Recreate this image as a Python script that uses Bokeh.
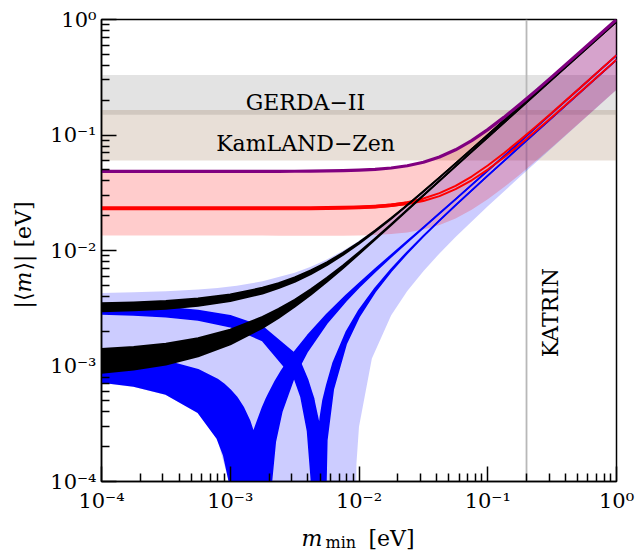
import math
from bokeh.plotting import figure
from bokeh.layouts import row, column
from bokeh.models import FixedTicker, CustomJSTickFormatter, Label
from bokeh.core.properties import value
from bokeh.embed import file_html
from bokeh.resources import INLINE

# ---------------- data ----------------
# common grid of lightest masses (powers of ten)
grid_exp = [-4, -3.75, -3.5, -3.25, -3, -2.75, -2.625, -2.5, -2.375, -2.25, -2.125, -2,
            -1.875, -1.75, -1.625, -1.5, -1.375, -1.25, -1.125, -1, -0.875, -0.75,
            -0.625, -0.5, -0.25, 0]

# inverted ordering, upper curve (purple)
ih_purple = [0.0484, 0.0484, 0.0484, 0.0484, 0.04843, 0.04847, 0.04851, 0.04856, 0.04866,
             0.04883, 0.04911, 0.04959, 0.05041, 0.05181, 0.05418, 0.05812, 0.0645,
             0.07448, 0.08951, 0.11131, 0.14204, 0.18443, 0.24213, 0.32, 0.56447, 1.0]
# inverted ordering, lower curves (red pair)
ih_red_a = [0.02319, 0.02319, 0.0232, 0.0232, 0.02321, 0.02324, 0.02326, 0.0233, 0.02336,
            0.02345, 0.02361, 0.02387, 0.0243, 0.02501, 0.02621, 0.02819, 0.03136, 0.0363,
            0.0437, 0.05442, 0.0695, 0.0903, 0.11859, 0.15675, 0.27657, 0.49057]
ih_red_b = [0.02319, 0.02318, 0.02318, 0.02318, 0.02317, 0.02316, 0.02316, 0.02317, 0.02318,
            0.02322, 0.02329, 0.02345, 0.02374, 0.02427, 0.02522, 0.02686, 0.02959, 0.03394,
            0.04055, 0.05022, 0.0639, 0.08283, 0.10863, 0.14347, 0.25295, 0.44857]
# thickness of the red pair at small masses (first 16 grid points)
ih_red_lo = [0.022261, 0.022261, 0.022261, 0.022261, 0.022264, 0.022274, 0.022287, 0.022308,
             0.022346, 0.022415, 0.022534, 0.022746, 0.02312, 0.023767, 0.024879, 0.026743]
ih_red_hi = [0.024115, 0.024115, 0.024115, 0.024115, 0.024118, 0.024128, 0.024139, 0.024158,
             0.024194, 0.024257, 0.024368, 0.024564, 0.02491, 0.025513, 0.026551, 0.028305]
# inverted ordering 3 sigma region, lower edge (upper edge = purple curve)
ih_region_lo = [0.013494, 0.013492, 0.013489, 0.013482, 0.013472, 0.013457, 0.013448,
                0.013439, 0.013431, 0.013431, 0.013449, 0.0135, 0.013619, 0.013863,
                0.014329, 0.015167, 0.0166, 0.018923, 0.022495, 0.027754, 0.035227,
                0.045587, 0.059727, 0.078841, 0.13893, 0.246333]

# normal ordering black bands
nh_black_top_lo = [0.002972, 0.003029, 0.003130, 0.003312, 0.003641, 0.004240, 0.004711,
                   0.005355, 0.006240, 0.007458, 0.009137, 0.011441, 0.014588, 0.018857,
                   0.024624, 0.032378, 0.042787, 0.056722, 0.075374, 0.100297, 0.133577,
                   0.177983, 0.237268, 0.316303, 0.562361, 1.0]
nh_black_top_hi = [0.003503, 0.003560, 0.003661, 0.003842, 0.004169, 0.004762, 0.005226,
                   0.005857, 0.006723, 0.007914, 0.009555, 0.011815, 0.014912, 0.019133,
                   0.024857, 0.032572, 0.042946, 0.056852, 0.075477, 0.100377, 0.133639,
                   0.178027, 0.237304, 0.316335, 0.562380, 1.0]
nh_black_low_lo = [0.000872, 0.000929, 0.001030, 0.001212, 0.001540, 0.002139, 0.002609,
                   0.003250, 0.004132, 0.005345, 0.007013, 0.009300, 0.012414, 0.016627,
                   0.022299, 0.029893, 0.040039, 0.053561, 0.071587, 0.095600, 0.127595,
                   0.170224, 0.227089, 0.302856, 0.538650, 0.957981]
nh_black_low_hi = [0.001403, 0.001460, 0.001561, 0.001742, 0.002068, 0.002661, 0.003123,
                   0.003753, 0.004616, 0.005800, 0.007432, 0.009673, 0.012739, 0.016904,
                   0.022532, 0.030087, 0.040198, 0.053691, 0.071690, 0.095680, 0.127657,
                   0.170268, 0.227125, 0.302888, 0.538669, 0.957986]

# normal ordering blue band with the cusp near 1.5e-3
blue1_exp = [-4, -3.75, -3.5, -3.25, -3.1, -3.05, -3, -2.95, -2.945, -2.9, -2.85, -2.82,
             -2.8, -2.75, -2.72, -2.7, -2.65, -2.6, -2.5, -2.4, -2.25, -2.1, -2, -1.875,
             -1.75, -1.625, -1.5, -1.375, -1.25, -1, -0.75, -0.5, -0.25, 0]
blue1_lo = [0.000727, 0.000671, 0.000572, 0.000398, 0.000235, 0.000168, 0.0000922,
            0.0000084, 1e-6, 1e-6, 1e-6, 1e-6, 1e-6, 1e-6, 1e-6, 0.0000593, 0.000222,
            0.000402, 0.000825, 0.001344, 0.002342, 0.003677, 0.004807, 0.00657, 0.008842,
            0.011805, 0.015699, 0.020864, 0.027731, 0.04912, 0.087192, 0.154974, 0.275551,
            0.490014]
blue1_hi = [0.001258, 0.001202, 0.001103, 0.000928, 0.000764, 0.000696, 0.00062, 0.000536,
            0.000527, 0.000441, 0.000335, 0.000266, 0.000306, 0.000435, 0.000519, 0.000578,
            0.000738, 0.000915, 0.001328, 0.001832, 0.002798, 0.004087, 0.005181, 0.006895,
            0.009119, 0.012039, 0.015893, 0.021024, 0.027861, 0.0492, 0.087236, 0.155004,
            0.27557, 0.490019]

# normal ordering blue band with the cusp near 5e-3
blue2_exp = [-4, -3.75, -3.5, -3.25, -3, -2.75, -2.5, -2.45, -2.4, -2.37, -2.352, -2.35,
             -2.32, -2.308, -2.3, -2.28, -2.25, -2.2, -2.1, -2, -1.875, -1.75, -1.625, -1.5,
             -1.375, -1.25, -1, -0.75, -0.5, -0.25, 0]
blue2_lo = [0.002827, 0.002771, 0.002672, 0.002498, 0.002193, 0.001666, 0.000777, 0.000538,
            0.000275, 0.000104, 1e-6, 1e-6, 1e-6, 1e-6, 1e-6, 0.0000065, 0.000228, 0.000628,
            0.00155, 0.002665, 0.004397, 0.006613, 0.009481, 0.013214, 0.018116, 0.02457,
            0.044423, 0.079433, 0.141527, 0.25184, 0.447961]
blue2_hi = [0.003358, 0.003302, 0.003203, 0.003028, 0.002721, 0.002188, 0.001279, 0.001034,
            0.000763, 0.000600, 0.000520, 0.000500, 0.000350, 0.000300, 0.000360, 0.000500,
            0.000684, 0.001071, 0.00196, 0.003039, 0.004721, 0.006889, 0.009714, 0.013408,
            0.018276, 0.0247, 0.044503, 0.079477, 0.141557, 0.251859, 0.447966]

# normal ordering 3 sigma region (light blue)
nh_exp = [-4, -3.75, -3.5, -3.25, -3.1, -3, -2.95, -2.75, -2.5, -2.375, -2.25, -2.125,
          -2.027, -2.02, -2, -1.9, -1.75, -1.625, -1.5, -1.375, -1.25, -1, -0.75, -0.5,
          -0.25, 0]
nh_region_hi = [0.004293, 0.004342, 0.004429, 0.004587, 0.004739, 0.004875, 0.004957,
                0.005407, 0.006413, 0.007225, 0.008361, 0.00995, 0.011621, 0.011758,
                0.012162, 0.014528, 0.019402, 0.025091, 0.032772, 0.043114, 0.056988,
                0.100461, 0.178077, 0.316363, 0.562397, 1.0]
nh_region_lo = [0.000712, 0.000658, 0.000561, 0.00039, 0.000231, 0.000091, 0.0000087,
                1e-6, 1e-6, 1e-6, 1e-6, 1e-6, 1e-6, 0.000142, 0.000298, 0.00116, 0.002752,
                0.004457, 0.006627, 0.00943, 0.013075, 0.024139, 0.043465, 0.077623,
                0.138241, 0.245952]

# experimental limits
gerda_band = [0.15, 0.33]
kamland_band = [0.06, 0.165]
katrin_limit = 0.2

x_limits = [1e-4, 1.0]
y_limits = [1e-4, 1.0]

# ---------------- figure ----------------
gx = [10 ** e for e in grid_exp]
b1x = [10 ** e for e in blue1_exp]
b2x = [10 ** e for e in blue2_exp]
nhx = [10 ** e for e in nh_exp]

FONT = "DejaVu Serif"

p = figure(width=597, height=515, x_axis_type="log", y_axis_type="log",
           x_range=(x_limits[0], x_limits[1]), y_range=(y_limits[0], y_limits[1]),
           output_backend="svg", toolbar_location=None,
           min_border_left=61, min_border_right=21, min_border_top=19, min_border_bottom=34)
p.grid.visible = False
p.outline_line_color = "black"
p.outline_line_width = 1.5
p.background_fill_color = "white"
p.border_fill_color = "white"

major = [1e-4, 1e-3, 1e-2, 1e-1, 1.0]
minor = [k * 10.0 ** e for e in range(-4, 0) for k in range(2, 10)]
fmt = CustomJSTickFormatter(code="""
const e = Math.round(Math.log10(tick));
const sup = {"-": "\\u207B", "0": "\\u2070", "1": "\\u00B9", "2": "\\u00B2", "3": "\\u00B3",
             "4": "\\u2074", "5": "\\u2075", "6": "\\u2076", "7": "\\u2077", "8": "\\u2078", "9": "\\u2079"};
return "10" + String(e).split("").map(c => sup[c]).join("");
""")
for ax in (p.xaxis[0], p.yaxis[0]):
    ax.ticker = FixedTicker(ticks=major, minor_ticks=minor)
    ax.formatter = fmt
    ax.major_tick_in = 15
    ax.major_tick_out = 0
    ax.minor_tick_in = 8
    ax.minor_tick_out = 0
    ax.major_tick_line_width = 1.5
    ax.minor_tick_line_width = 1.5
    ax.major_tick_line_color = "black"
    ax.minor_tick_line_color = "black"
    ax.axis_line_width = 1.5
    ax.axis_line_color = "black"
    ax.major_label_text_font = FONT
    ax.major_label_text_font_size = "21px"
    ax.major_label_text_color = "black"
p.xaxis.major_label_standoff = 7
p.yaxis.major_label_standoff = 5

# experimental bands
p.varea(x=x_limits, y1=[gerda_band[0]] * 2, y2=[gerda_band[1]] * 2,
        fill_color="#808080", fill_alpha=0.22)
p.varea(x=x_limits, y1=[kamland_band[0]] * 2, y2=[kamland_band[1]] * 2,
        fill_color="#8c5f37", fill_alpha=0.2)
p.line(x=[katrin_limit, katrin_limit], y=y_limits, line_color="#b8b8b8", line_width=1.8)

# 3 sigma regions
p.varea(x=nhx, y1=nh_region_lo, y2=nh_region_hi, fill_color="blue", fill_alpha=0.2)
p.varea(x=gx, y1=ih_region_lo, y2=ih_purple, fill_color="red", fill_alpha=0.2)


def band(xs, lo, hi, color, lw):
    p.varea(x=xs, y1=lo, y2=hi, fill_color=color, fill_alpha=1.0)
    p.line(x=xs, y=lo, line_color=color, line_width=lw, line_join="round")
    p.line(x=xs, y=hi, line_color=color, line_width=lw, line_join="round")


band(b1x, blue1_lo, blue1_hi, "blue", 1.6)
band(b2x, blue2_lo, blue2_hi, "blue", 1.6)

n_red = len(ih_red_lo)
p.varea(x=gx[:n_red], y1=ih_red_lo, y2=ih_red_hi, fill_color="red")
p.line(x=gx, y=ih_red_a, line_color="red", line_width=2, line_join="round")
p.line(x=gx, y=ih_red_b, line_color="red", line_width=2, line_join="round")

band(gx, nh_black_low_lo, nh_black_low_hi, "black", 1.8)
band(gx, nh_black_top_lo, nh_black_top_hi, "black", 1.8)

p.line(x=gx, y=ih_purple, line_color="purple", line_width=3.2, line_join="round")

# annotation texts inside the frame
for txt, xx, yy in (("GERDA\u2212II", 3.84e-3, 0.193), ("KamLAND\u2212Zen", 3.84e-3, 0.0839)):
    p.add_layout(Label(x=xx, y=yy, text=txt, text_font=FONT, text_font_size="22px",
                       text_align="center", text_baseline="alphabetic", text_color="black"))
p.add_layout(Label(x=0.307, y=0.0029, text="KATRIN", text_font=FONT, text_font_size="22px",
                   text_align="center", text_baseline="middle", angle=math.pi / 2,
                   text_color="black"))


def strip(w, h, xr, yr, left, right, top, bottom):
    f = figure(width=w, height=h, x_range=xr, y_range=yr, output_backend="svg",
               toolbar_location=None, x_axis_location=None, y_axis_location=None,
               min_border_left=left, min_border_right=right, min_border_top=top,
               min_border_bottom=bottom)
    f.grid.visible = False
    f.outline_line_color = None
    f.background_fill_color = "white"
    f.border_fill_color = "white"
    return f


# y axis title strip: its frame spans page y 19..550, data = page coordinates
ylab = strip(40, 550, (0, 40), (550, 19), 0, 0, 19, 0)
for txt, yy, style in (("|\u27e8", 308, "normal"), ("m", 292, "italic"),
                       ("\u27e9| [eV]", 270, "normal")):
    ylab.text(x=[22.5], y=[yy], text=[txt], angle=math.pi / 2, text_font=value(FONT),
              text_font_size="22px", text_font_style=style, text_align="left",
              text_baseline="middle", text_color="black")

# x axis title strip: frame spans page x 101..616 and y 515..550, data = page coordinates
xlab = strip(597, 35, (101, 616), (550, 515), 61, 21, 0, 0)
for txt, xx, yy, size, style in (("m", 301, 538, "22px", "italic"),
                                 ("min", 325, 541.5, "16px", "normal"),
                                 ("[eV]", 368, 538, "22px", "normal")):
    xlab.text(x=[xx], y=[yy], text=[txt], text_font=value(FONT), text_font_size=size,
              text_font_style=style, text_align="left", text_baseline="alphabetic",
              text_color="black")

layout = row(ylab, column(p, xlab))
open("out.html", "w", encoding="utf-8").write(file_html(layout, INLINE))
